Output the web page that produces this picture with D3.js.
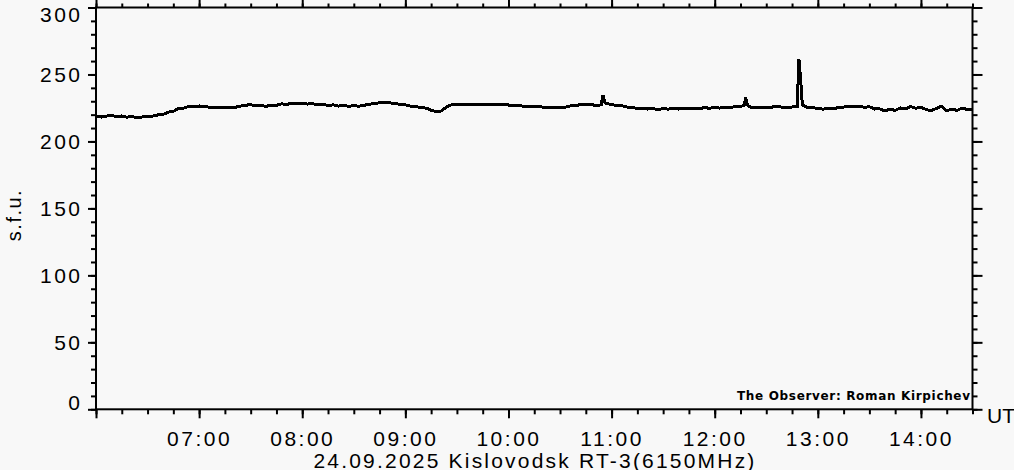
<!DOCTYPE html>
<html>
<head>
<meta charset="utf-8">
<script src="https://cdn.jsdelivr.net/npm/d3@7"></script>
<style>
    body { margin: 0; background: #f8f8f8; }
    svg { display: block; }
    text { font-family: "Liberation Sans", Arial, sans-serif; fill: #000; }
</style>
</head>
<body>
<div id="chart"></div>
<script>
// Kislovodsk RT-3, 6150 MHz, 24.09.2025 -- flux in s.f.u.
var times = [
    "06:00", "06:03", "06:06", "06:09", "06:12", "06:15", "06:18", "06:21", "06:24", "06:27",
    "06:30", "06:33", "06:36", "06:39", "06:42", "06:45", "06:48", "06:51", "06:54", "06:57",
    "07:00", "07:03", "07:06", "07:09", "07:12", "07:15", "07:18", "07:21", "07:24", "07:27",
    "07:30", "07:33", "07:36", "07:39", "07:42", "07:45", "07:48", "07:51", "07:54", "07:57",
    "08:00", "08:03", "08:06", "08:09", "08:12", "08:15", "08:18", "08:21", "08:24", "08:27",
    "08:30", "08:33", "08:36", "08:39", "08:42", "08:45", "08:48", "08:51", "08:54", "08:57",
    "09:00", "09:03", "09:06", "09:09", "09:12", "09:15", "09:18", "09:21", "09:24", "09:27",
    "09:30", "09:33", "09:36", "09:39", "09:42", "09:45", "09:48", "09:51", "09:54", "09:57",
    "10:00", "10:03", "10:06", "10:09", "10:12", "10:15", "10:18", "10:21", "10:24", "10:27",
    "10:30", "10:33", "10:36", "10:39", "10:42", "10:45", "10:48", "10:51", "10:54", "10:55", "10:56", "10:57",
    "11:00", "11:03", "11:06", "11:09", "11:12", "11:15", "11:18", "11:21", "11:24", "11:27",
    "11:30", "11:33", "11:36", "11:39", "11:42", "11:45", "11:48", "11:51", "11:54", "11:57",
    "12:00", "12:03", "12:06", "12:09", "12:12", "12:15", "12:17", "12:18", "12:19", "12:21", "12:24", "12:27",
    "12:30", "12:33", "12:36", "12:39", "12:42", "12:45", "12:48", "12:49", "12:50", "12:51", "12:54", "12:57",
    "13:00", "13:03", "13:06", "13:09", "13:12", "13:15", "13:18", "13:21", "13:24", "13:27",
    "13:30", "13:33", "13:36", "13:39", "13:42", "13:45", "13:48", "13:51", "13:54", "13:57",
    "14:00", "14:03", "14:06", "14:09", "14:12", "14:15", "14:18", "14:21", "14:24", "14:27", "14:30"
];
var flux = [
    219.1, 218.2, 218.9, 219.4, 218.5, 219.0, 218.1, 218.6, 217.5, 218.3,
    218.6, 218.9, 219.8, 220.1, 221.9, 222.4, 224.8, 224.9, 226.2, 226.0,
    226.5, 225.9, 225.6, 225.3, 225.1, 225.0, 225.2, 225.5, 226.4, 227.0,
    227.5, 226.5, 226.8, 226.2, 227.1, 227.0, 228.1, 227.6, 228.6, 228.2,
    228.7, 227.9, 228.2, 227.3, 227.8, 226.9, 227.3, 226.4, 227.0, 226.2,
    226.7, 226.3, 227.0, 227.7, 228.4, 228.8, 229.0, 228.8, 228.3, 227.7,
    227.4, 226.3, 226.2, 225.2, 224.9, 223.3, 222.3, 222.8, 225.8, 227.5,
    227.6, 227.8, 227.5, 227.9, 227.6, 227.8, 227.3, 227.6, 227.2, 227.5,
    227.2, 226.6, 226.9, 226.1, 226.4, 225.8, 226.1, 225.3, 225.7, 225.1,
    225.6, 225.5, 226.5, 226.7, 227.6, 227.3, 227.8, 226.6, 227.4, 234.6, 229.3, 228.2,
    227.6, 226.8, 226.6, 225.7, 225.5, 224.6, 224.9, 224.2, 224.5, 223.9,
    224.5, 224.1, 224.7, 224.2, 224.6, 224.3, 224.9, 224.5, 225.2, 224.8,
    225.3, 224.9, 225.5, 225.3, 226.1, 226.3, 226.6, 232.6, 227.2, 225.4, 225.0, 225.6,
    225.2, 225.6, 226.1, 225.6, 225.4, 225.7, 225.9, 261.8, 246.5, 227.4, 225.2, 225.0,
    224.9, 224.1, 224.7, 224.3, 225.4, 225.6, 226.3, 225.7, 226.2, 225.5,
    225.9, 224.2, 224.3, 222.9, 224.1, 223.2, 225.0, 224.3, 226.1, 224.8,
    225.6, 223.8, 223.0, 224.6, 226.3, 222.9, 224.1, 223.2, 224.9, 223.8, 224.0
];
var timeRange = ["06:00", "14:30"];
var yLabels = [0, 50, 100, 150, 200, 250, 300];
var hourLabels = ["07:00", "08:00", "09:00", "10:00", "11:00", "12:00", "13:00", "14:00"];
var title = "24.09.2025 Kislovodsk RT-3(6150MHz)";
var observer = "The Observer: Roman Kirpichev";

var parseTime = d3.utcParse("%H:%M");
var data = times.map((t, i) => ({ t: parseTime(t), v: flux[i] }));

var width = 1014, height = 470;
var svg = d3.select("#chart").append("svg")
    .attr("width", width)
    .attr("height", height);

var x = d3.scaleUtc()
    .domain(timeRange.map(parseTime))
    .range([96, 972.5]);
var y = d3.scaleLinear()
    .domain([0, 300])
    .range([409.3, 7.5]);

var minorT = x.ticks(d3.utcMinute.every(15));
var majorT = x.ticks(d3.utcHour.every(1));
var minorV = d3.range(0, 301, 10);

function styleAxis(g) {
    g.select(".domain").remove();
    g.selectAll(".tick line").attr("stroke", "#000").attr("stroke-width", 2);
    g.selectAll(".tick text").remove();
}

// ticks on all four sides, short every 15 min / 10 sfu, long on the hour / 50 sfu
svg.append("g").attr("transform", "translate(0," + y(0) + ")")
    .call(d3.axisBottom(x).tickValues(minorT).tickSize(5)).call(styleAxis);
svg.append("g").attr("transform", "translate(0," + y(0) + ")")
    .call(d3.axisBottom(x).tickValues(majorT).tickSize(9)).call(styleAxis);
svg.append("g").attr("transform", "translate(0," + y(300) + ")")
    .call(d3.axisTop(x).tickValues(minorT).tickSize(4)).call(styleAxis);
svg.append("g").attr("transform", "translate(0," + y(300) + ")")
    .call(d3.axisTop(x).tickValues(majorT).tickSize(8)).call(styleAxis);
svg.append("g").attr("transform", "translate(" + x.range()[0] + ",0)")
    .call(d3.axisLeft(y).tickValues(minorV).tickSize(5)).call(styleAxis);
svg.append("g").attr("transform", "translate(" + x.range()[0] + ",0)")
    .call(d3.axisLeft(y).tickValues(yLabels).tickSize(8)).call(styleAxis);
svg.append("g").attr("transform", "translate(" + x.range()[1] + ",0)")
    .call(d3.axisRight(y).tickValues(minorV).tickSize(5)).call(styleAxis);
svg.append("g").attr("transform", "translate(" + x.range()[1] + ",0)")
    .call(d3.axisRight(y).tickValues(yLabels).tickSize(10)).call(styleAxis);

svg.append("rect")
    .attr("x", x.range()[0])
    .attr("y", y(300))
    .attr("width", x.range()[1] - x.range()[0])
    .attr("height", y(0) - y(300))
    .attr("fill", "none")
    .attr("stroke", "#000")
    .attr("stroke-width", 2);

var line = d3.line()
    .x((d) => x(d.t))
    .y((d) => y(d.v));

svg.append("path")
    .datum(data)
    .attr("fill", "none")
    .attr("stroke", "#000")
    .attr("stroke-width", 3)
    .attr("shape-rendering", "crispEdges")
    .attr("d", line);

// y labels: the end ones are pulled inside the frame like the original
svg.selectAll(".ylab")
    .data(yLabels)
    .enter()
    .append("text")
    .attr("x", 82.5)
    .attr("y", (d) => {
        var c = y(d);
        if (d === 300) c = 14;
        if (d === 0) c = 402.5;
        return c + 7.5;
    })
    .attr("text-anchor", "end")
    .style("font-size", "21px")
    .style("letter-spacing", "2.5px")
    .text((d) => d);

svg.selectAll(".xlab")
    .data(hourLabels)
    .enter()
    .append("text")
    .attr("x", (d) => x(parseTime(d)) + 0.5)
    .attr("y", 445.5)
    .attr("text-anchor", "middle")
    .style("font-size", "21px")
    .style("letter-spacing", "2.5px")
    .text((d) => d);

svg.append("text")
    .attr("x", 987)
    .attr("y", 423)
    .style("font-size", "21px")
    .text("UT");

svg.append("text")
    .attr("transform", "translate(21,215) rotate(-90)")
    .attr("text-anchor", "middle")
    .style("font-size", "20px")
    .style("letter-spacing", "1.5px")
    .text("s.f.u.");

// the original clips the bottom of the title at the image edge
svg.append("text")
    .attr("x", 535)
    .attr("y", 468)
    .attr("text-anchor", "middle")
    .style("font-size", "21px")
    .style("letter-spacing", "2.2px")
    .text(title);

svg.append("text")
    .attr("x", 737)
    .attr("y", 399.5)
    .attr("textLength", 233)
    .attr("lengthAdjust", "spacing")
    .style("font-family", "'DejaVu Sans', sans-serif")
    .style("font-size", "12px")
    .style("font-weight", "600")
    .text(observer);
</script>
</body>
</html>
